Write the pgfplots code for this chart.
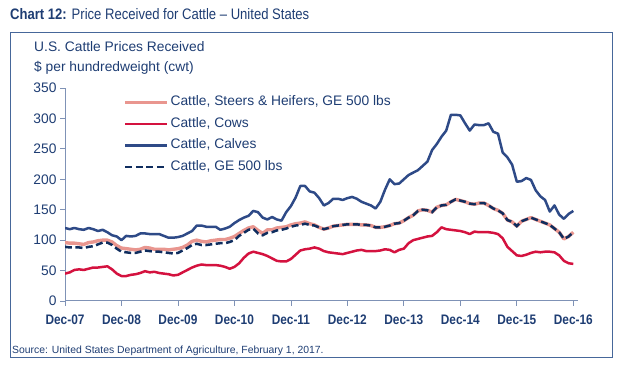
\documentclass[border=0pt]{standalone}
\usepackage{fontspec}
\setmainfont{Liberation Sans}
\newfontfamily\condfont[FakeStretch=0.86]{Liberation Sans}
\usepackage{pgfplots}
\usepackage{pgfplotstable}
\pgfplotsset{compat=1.18}
\definecolor{navy}{HTML}{1E3D73}
\definecolor{framecol}{HTML}{46679A}
\definecolor{axiscol}{HTML}{7F92B6}
\definecolor{calfcol}{HTML}{2E4A87}
\definecolor{cowcol}{HTML}{D4123F}
\definecolor{shcol}{HTML}{E9968F}
\definecolor{gecol}{HTML}{0F2D5E}

\pgfplotstableread{
m sh cow calf ge
0 96 45 120 89
1 95 47 118 88
2 95 51 120 88
3 94 52 118 88
4 93 51 117 87
5 96 53 120 89
6 97 55 118 90
7 99 55 115 93
8 100 56 117 96
9 100 57 113 96
10 97 52 108 92
11 91 45 106 86
12 87 41 100 81
13 86 41 107 80
14 85 43 106 79
15 84 44 107 79
16 85 46 111 81
17 88 49 111 83
18 87 47 110 82
19 85 48 110 81
20 85 46 110 81
21 85 45 107 80
22 84 44 104 79
23 85 42 104 78
24 86 43 105 79
25 88 47 107 83
26 92 51 111 87
27 98 55 115 92
28 100 58 124 94
29 98 60 124 92
30 97 59 122 92
31 99 59 122 93
32 100 59 122 94
33 101 58 117 95
34 101 56 119 95
35 103 53 122 97
36 106 56 128 100
37 111 62 133 107
38 116 71 137 112
39 120 78 140 117
40 122 81 148 119
41 116 79 146 111
42 111 77 137 108
43 117 74 134 112
44 117 70 138 113
45 120 66 134 116
46 121 65 132 117
47 122 65 146 119
48 125 69 156 122
49 127 76 170 124
50 128 83 189 125
51 130 85 189 127
52 127 86 180 125
53 125 88 178 124
54 121 86 169 121
55 118 82 157 118
56 120 80 161 120
57 123 79 168 123
58 124 78 168 124
59 125 77 166 125
60 126 79 169 126
61 126 81 171 126
62 126 83 168 126
63 125 84 163 125
64 125 82 160 125
65 124 82 157 124
66 121 82 152 121
67 121 83 163 121
68 122 85 183 122
69 124 84 200 124
70 127 80 192 127
71 128 84 193 128
72 132 86 200 132
73 137 95 207 137
74 141 100 211 141
75 148 102 215 148
76 150 104 222 150
77 149 106 229 149
78 146 107 248 146
79 154 113 258 154
80 157 121 270 157
81 158 118 280 158
82 163 117 306 163
83 167 116 306 167
84 165 115 305 165
85 163 113 292 163
86 160 110 280 160
87 159 114 290 159
88 161 113 289 161
89 161 113 289 161
90 157 113 292 157
91 152 112 278 152
92 149 110 275 149
93 144 103 244 144
94 133 89 236 133
95 130 82 224 130
96 123 75 196 123
97 131 74 197 131
98 134 76 202 134
99 137 79 199 137
100 134 81 182 134
101 131 80 172 131
102 128 81 166 128
103 125 81 147 125
104 119 80 157 119
105 113 75 142 113
106 102 66 135 102
107 106 62 143 106
108 113 61 148 113
}\cattle

\begin{document}
\begin{tikzpicture}
\path[use as bounding box] (0pt,0pt) rectangle (621pt,366pt);
\draw[framecol, line width=1pt] (10pt,8pt) rectangle (612pt,333pt);
\node[anchor=base west, inner sep=0, text=navy] at (10pt,346pt)
  {\condfont\fontsize{15.2}{17}\selectfont\textbf{Chart 12:} Price Received for Cattle – United States};
\node[anchor=base west, inner sep=0, text=navy] at (34pt,314.5pt)
  {\fontsize{13.8}{16}\selectfont U.S. Cattle Prices Received};
\node[anchor=base west, inner sep=0, text=navy] at (34pt,294.5pt)
  {\fontsize{13.8}{16}\selectfont \$ per hundredweight (cwt)};
\node[anchor=base west, inner sep=0, text=navy] at (12pt,12.5pt)
  {\fontsize{10.4}{12}\selectfont Source: United States Department of Agriculture, February 1, 2017.};
\begin{axis}[
  at={(65pt,65pt)}, anchor=south west,
  scale only axis, width=513pt, height=213pt,
  xmin=0, xmax=109, ymin=0, ymax=350,
  axis lines*=left,
  axis line style={axiscol, line width=1pt},
  xtick={0,12,...,108},
  xticklabels={Dec-07,Dec-08,Dec-09,Dec-10,Dec-11,Dec-12,Dec-13,Dec-14,Dec-15,Dec-16},
  ytick={0,50,...,350},
  tick align=outside,
  major tick length=5pt,
  tick style={axiscol, line width=0.8pt},
  /pgf/number format/assume math mode=true,
  yticklabel style={font=\fontsize{13.8}{16}\selectfont, text=navy},
  xticklabel style={font=\condfont\bfseries\fontsize{13.8}{16}\selectfont, text=navy, yshift=-5pt},
  legend cell align=left,
  legend image code/.code={\draw[#1] (0pt,0pt) -- (42pt,0pt);},
  legend style={draw=none, fill=none, at={(0.114,0.97)}, anchor=north west,
    font=\fontsize{13.8}{16}\selectfont, text=navy, inner sep=0pt, row sep=6pt,
    nodes={inner sep=1.5pt, text height=9.8pt, text depth=2.7pt}},
]
\addplot[shcol, line width=3.4pt, line join=round] table[x=m, y=sh] {\cattle};
\addlegendentry{Cattle, Steers \& Heifers, GE 500 lbs}
\addplot[cowcol, line width=2.5pt, line join=round] table[x=m, y=cow] {\cattle};
\addlegendentry{Cattle, Cows}
\addplot[calfcol, line width=2.5pt, line join=round] table[x=m, y=calf] {\cattle};
\addlegendentry{Cattle, Calves}
\addplot[gecol, line width=2.5pt, dash pattern=on 7pt off 3.5pt] table[x=m, y=ge] {\cattle};
\addlegendentry{Cattle, GE 500 lbs}
\end{axis}
\end{tikzpicture}
\end{document}
